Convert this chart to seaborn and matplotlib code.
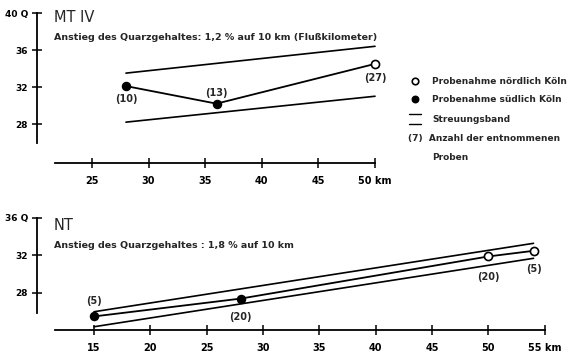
import numpy as np
import pandas as pd
import matplotlib
matplotlib.use("Agg")
import matplotlib.pyplot as plt
import seaborn as sns

# ---- data: MT IV (top panel) ----
mt_km = [28, 36, 50]
mt_q = [32.1, 30.2, 34.5]
mt_n = ["(10)", "(13)", "(27)"]
mt_north = [False, False, True]
mt_band_km = [28, 50]
mt_band_up = [33.5, 36.4]
mt_band_lo = [28.2, 31.0]
mt_xticks = [25, 30, 35, 40, 45, 50]
mt_xticklabels = ["25", "30", "35", "40", "45", "50 km"]
mt_yticks = [28, 32, 36, 40]
mt_yticklabels = ["28", "32", "36", "40 Q"]

# ---- data: NT (bottom panel) ----
nt_km = [15, 28, 50, 54]
nt_q = [25.5, 27.4, 31.9, 32.5]
nt_n = ["(5)", "(20)", "(20)", "(5)"]
nt_north = [False, False, True, True]
nt_band_km = [15, 54]
nt_band_up = [26.0, 33.3]
nt_band_lo = [24.4, 31.7]
nt_xticks = [15, 20, 25, 30, 35, 40, 45, 50, 55]
nt_xticklabels = ["15", "20", "25", "30", "35", "40", "45", "50", "55 km"]
nt_yticks = [28, 32, 36]
nt_yticklabels = ["28", "32", "36 Q"]

sns.set_style("ticks")
plt.rcParams["font.family"] = ["DejaVu Sans"]

W, H = 569, 352
fig = plt.figure(figsize=(W / 100, H / 100), dpi=100)


def px_axes(left, right, top, bottom):
    return fig.add_axes([left / W, 1 - bottom / H, (right - left) / W, (bottom - top) / H])


def draw_panel(ax, km, q, labels, north, bkm, bup, blo, xlim, ylim, xb, yb,
               xt, xtl, yt, ytl, offsets):
    df = pd.DataFrame({"km": km, "q": q, "north": north})
    band = pd.DataFrame({"km": bkm + bkm, "q": bup + blo,
                         "b": ["up"] * len(bkm) + ["lo"] * len(bkm)})
    sns.lineplot(data=band, x="km", y="q", units="b", estimator=None,
                 color="black", lw=1.2, ax=ax)
    sns.lineplot(data=df, x="km", y="q", color="black", lw=1.3, ax=ax,
                 estimator=None, sort=False)
    sns.scatterplot(data=df[~df.north], x="km", y="q", color="black",
                    s=34, edgecolor="black", linewidth=1, ax=ax, zorder=5)
    sns.scatterplot(data=df[df.north], x="km", y="q", color="white",
                    s=34, edgecolor="black", linewidth=1.2, ax=ax, zorder=5)
    for x, y, t, (dx, dy) in zip(km, q, labels, offsets):
        ax.annotate(t, (x, y), xytext=(dx, dy), textcoords="offset points",
                    ha="center", va="center", fontsize=7, fontweight="bold")
    ax.set_xlim(*xlim)
    ax.set_ylim(*ylim)
    ax.set_xlabel("")
    ax.set_ylabel("")
    ax.set_facecolor("none")
    for s in ["top", "right"]:
        ax.spines[s].set_visible(False)
    ax.spines["left"].set_bounds(*yb)
    ax.spines["bottom"].set_bounds(*xb)
    for s in ["left", "bottom"]:
        ax.spines[s].set_linewidth(1.3)
        ax.spines[s].set_color("black")
    ax.set_xticks(xt)
    ax.set_xticklabels(xtl)
    ax.set_yticks(yt)
    ax.set_yticklabels(ytl)
    ax.tick_params(direction="inout", length=7, width=1.1, labelsize=7,
                   colors="black")
    ax.tick_params(axis="x", pad=6)
    ax.tick_params(axis="y", pad=3, labelsize=6.5)
    for lab in ax.get_xticklabels() + ax.get_yticklabels():
        lab.set_fontweight("bold")
    if ax.get_legend():
        ax.get_legend().remove()


# top panel: left spine at px 37, x=25 at px 92, 11.32 px/km
ax1 = px_axes(37, 400, 10, 163)
draw_panel(ax1, mt_km, mt_q, mt_n, mt_north, mt_band_km, mt_band_up, mt_band_lo,
           (20.14, 20.14 + 363 / 11.32), (36 - 113 / 9.25, 36 + 40 / 9.25),
           (21.7, 50), (25.95, 40), mt_xticks, mt_xticklabels, mt_yticks,
           mt_yticklabels, [(0, -9), (0, 8), (0, -10)])

# bottom panel: left spine at px 37, x=15 at px 94, 11.27 px/km
ax2 = px_axes(37, 565, 210, 330)
draw_panel(ax2, nt_km, nt_q, nt_n, nt_north, nt_band_km, nt_band_up, nt_band_lo,
           (15 - 57 / 11.27, 15 + 471 / 11.27), (36 - 112 / 9.375, 36 + 8 / 9.375),
           (11.5, 55), (25.9, 36), nt_xticks, nt_xticklabels, nt_yticks,
           nt_yticklabels, [(0, 11), (0, -13), (0, -15), (0, -13)])
ax2.get_xticklabels()[-1].set_x(55.8)

# panel titles
fig.text(54 / W, 1 - 17 / H, "MT IV", fontsize=10.5, va="center", ha="left")
fig.text(54 / W, 1 - 38 / H,
         "Anstieg des Quarzgehaltes: 1,2 % auf 10 km (Flußkilometer)",
         fontsize=6.8, fontweight="bold", va="center", ha="left")
fig.text(54 / W, 1 - 226 / H, "NT", fontsize=10.5, va="center", ha="left")
fig.text(54 / W, 1 - 246 / H, "Anstieg des Quarzgehaltes : 1,8 % auf 10 km",
         fontsize=6.8, fontweight="bold", va="center", ha="left")

# legend
lg = fig.add_axes([0, 0, 1, 1])
lg.set_xlim(0, W)
lg.set_ylim(H, 0)
lg.axis("off")
lg.scatter([415], [81], s=22, facecolor="white", edgecolor="black", linewidth=1.2)
lg.scatter([415], [99], s=22, facecolor="black", edgecolor="black")
lg.plot([409, 421], [114, 114], color="black", lw=1)
lg.plot([409, 421], [124, 124], color="black", lw=1)
for y, t, x in [(81, "Probenahme nördlich Köln", 432),
                (99, "Probenahme südlich Köln", 432),
                (119, "Streuungsband", 432),
                (138, "(7)  Anzahl der entnommenen", 408),
                (157, "Proben", 432)]:
    lg.text(x, y, t, fontsize=6.5, fontweight="bold", va="center", ha="left")

fig.savefig("out.png", dpi=100)
